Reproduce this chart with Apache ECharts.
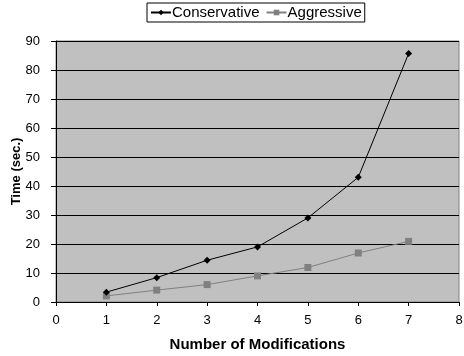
<!DOCTYPE html>
<html>
<head>
<meta charset="utf-8">
<script src="https://cdn.jsdelivr.net/npm/echarts@6/dist/echarts.min.js"></script>
<style>
  html, body { margin: 0; padding: 0; background: #fff; }
  #chart { width: 464px; height: 356px; }
</style>
</head>
<body>
<div id="chart"></div>
<script>
// values
const modifications = [1, 2, 3, 4, 5, 6, 7]
const conservative = [3.4, 8.4, 14.4, 19.0, 29.0, 43.0, 85.7]
const aggressive = [2.1, 4.1, 6.0, 9.0, 11.9, 16.9, 20.9]

const font = 'Liberation Sans, Arial, sans-serif'

const chart = echarts.init(document.getElementById('chart'))

const option = {
  animation: false,
  legend: {
    top: 3,
    left: 147,
    itemGap: 6,
    itemWidth: 20,
    itemHeight: 7,
    padding: [2, 3, 2, 3],
    borderColor: '#000',
    borderWidth: 1,
    textStyle: { fontFamily: font, fontSize: 15, color: '#000', padding: [0, 0, 0, -4] },
    data: ['Conservative', 'Aggressive']
  },
  grid: {
    left: 56,
    right: 5,
    top: 41,
    bottom: 54,
    outerBoundsMode: 'none',
    containLabel: false,
    show: true,
    backgroundColor: '#c0c0c0',
    borderColor: '#808080',
    borderWidth: 1
  },
  xAxis: {
    type: 'value',
    min: 0,
    max: 8,
    interval: 1,
    name: 'Number of Modifications',
    nameLocation: 'middle',
    nameGap: 35,
    nameMoveOverlap: false,
    nameTextStyle: { fontFamily: font, fontSize: 15, fontWeight: 'bold', color: '#000' },
    axisLine: { lineStyle: { color: '#000' } },
    axisTick: { show: true, length: 4, lineStyle: { color: '#000' } },
    axisLabel: { fontFamily: font, fontSize: 13, color: '#000', margin: 12 },
    splitLine: { show: false }
  },
  yAxis: {
    type: 'value',
    min: 0,
    max: 90,
    interval: 10,
    name: 'Time (sec.)',
    nameLocation: 'middle',
    nameGap: 33,
    nameMoveOverlap: false,
    nameTextStyle: { fontFamily: font, fontSize: 13, fontWeight: 'bold', color: '#000' },
    axisLine: { show: true, lineStyle: { color: '#000' } },
    axisTick: { show: true, length: 5, lineStyle: { color: '#000' } },
    axisLabel: { fontFamily: font, fontSize: 13, color: '#000', margin: 16 },
    splitLine: { show: true, lineStyle: { color: '#000', width: 1 } }
  },
  series: [
    {
      name: 'Conservative',
      type: 'line',
      data: modifications.map((m, i) => [m, conservative[i]]),
      symbol: 'diamond',
      symbolSize: 7,
      itemStyle: { color: '#000' },
      lineStyle: { color: '#000', width: 1 },
      z: 3
    },
    {
      name: 'Aggressive',
      type: 'line',
      data: modifications.map((m, i) => [m, aggressive[i]]),
      symbol: 'rect',
      symbolSize: 7,
      itemStyle: { color: '#808080' },
      lineStyle: { color: '#808080', width: 1 },
      z: 2
    }
  ]
}

chart.setOption(option)
</script>
</body>
</html>
